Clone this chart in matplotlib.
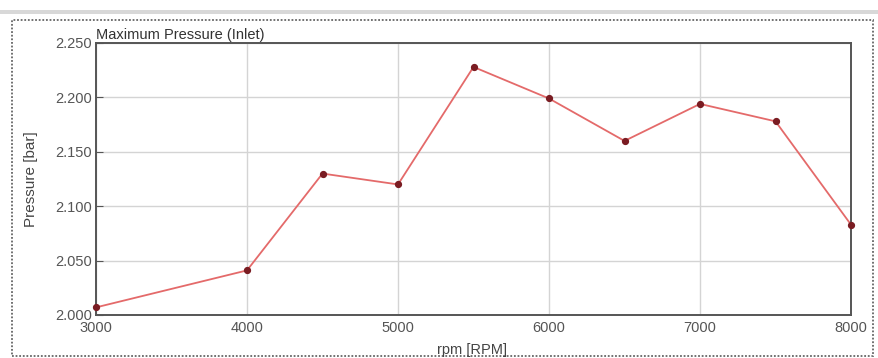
import matplotlib.pyplot as plt
from matplotlib.patches import Rectangle

plt.rcParams['font.family'] = ['Liberation Sans', 'DejaVu Sans']

# data
rpm = [3000, 4000, 4500, 5000, 5500, 6000, 6500, 7000, 7500, 8000]
pressure = [2.007, 2.041, 2.130, 2.120, 2.228, 2.199, 2.160, 2.194, 2.178, 2.083]
y_ticks = [2.000, 2.050, 2.100, 2.150, 2.200, 2.250]
x_ticks = [3000, 4000, 5000, 6000, 7000, 8000]

fig = plt.figure(figsize=(8.79, 3.58), dpi=100)

# window chrome: grey strip at the top and a dotted frame round the panel
fig.patches.append(Rectangle((0.0, 1 - 14 / 358), 1.0, 4 / 358, transform=fig.transFigure,
                             facecolor='#d8d8d8', edgecolor='none'))
fig.patches.append(Rectangle((12 / 879, 2 / 358), 861 / 879, 336 / 358, transform=fig.transFigure,
                             facecolor='none', edgecolor='#666666', linestyle=(0, (1, 1)),
                             linewidth=1.3))

ax = fig.add_axes([96 / 879, 43 / 358, 755 / 879, 272 / 358])
ax.plot(rpm, pressure, color='#e46a6a', linewidth=1.3, zorder=3)
ax.plot(rpm, pressure, linestyle='none', marker='o', markersize=4.2,
        color='#7a1c22', zorder=4, clip_on=False)

ax.set_xlim(3000, 8000)
ax.set_ylim(2.0, 2.25)
ax.set_xticks(x_ticks)
ax.set_yticks(y_ticks)
ax.set_yticklabels(['%.3f' % v for v in y_ticks])
ax.grid(True, color='#d4d4d4', linewidth=1.0)
ax.set_axisbelow(True)

for s in ax.spines.values():
    s.set_color('#555555')
    s.set_linewidth(1.4)

ax.tick_params(axis='y', direction='in', length=5, color='#555555',
               labelsize=10.5, labelcolor='#555555', pad=3)
ax.tick_params(axis='x', length=0, labelsize=10.5, labelcolor='#555555', pad=4)

ax.text(0.0, 1.005, 'Maximum Pressure (Inlet)', transform=ax.transAxes,
        fontsize=10.5, color='#333333', ha='left', va='bottom')
ax.set_ylabel('Pressure [bar]', fontsize=11, color='#444444', labelpad=12)
fig.text(472 / 879, 1 / 358, 'rpm [RPM]', fontsize=10.5, color='#444444',
         ha='center', va='bottom')

fig.savefig('out.png', dpi=100)
